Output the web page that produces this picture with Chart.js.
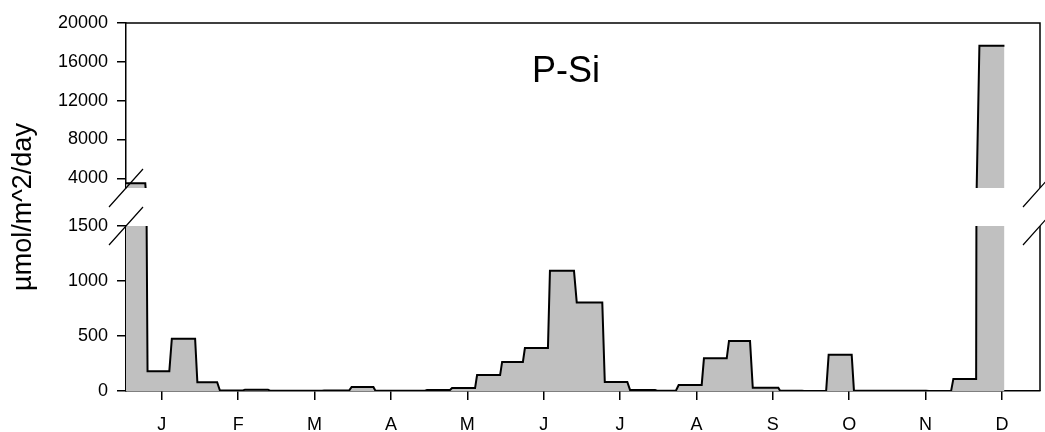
<!DOCTYPE html>
<html>
<head>
<meta charset="utf-8">
<script src="https://cdn.jsdelivr.net/npm/chart.js@4/dist/chart.umd.min.js"></script>
<style>
  html, body { margin: 0; padding: 0; background: #fff; }
</style>
</head>
<body>
<canvas id="c" width="1045" height="432"></canvas>
<script>
// trap sample periods (day of year) and P-Si flux in µmol/m^2/day
const periodStart = [0, 8.6, 18.3, 28.5, 37.5, 47.5, 57.5, 68.3, 79.1, 90.1, 99.6, 110.2, 120.2, 130.2, 140.2, 150.2, 159.3, 169.3, 180.0, 191.2, 201.3, 212.1, 220.7, 230.8, 240.8, 250.3, 261.2, 270.8, 280.6, 290.7, 300.7, 310.7, 320.7, 330.4, 340.8]
const periodEnd = [7.7, 17.3, 27.6, 36.4, 46.7, 56.7, 67.5, 78.3, 89.1, 98.8, 109.4, 119.4, 129.4, 139.4, 149.4, 158.5, 168.5, 178.9, 190.2, 200.2, 211.3, 219.6, 229.9, 239.9, 249.2, 260.5, 270.0, 279.6, 289.8, 299.9, 309.9, 319.5, 329.5, 339.5, 350.8]
const fluxPSi = [3480, 180, 475, 80, 5, 12, 3, 2, 4, 36, 2, 3, 9, 27, 145, 264, 391, 1094, 805, 82, 8, 2, 55, 297, 455, 30, 2, 1, 330, 3, 2, 2, 1, 110, 17650]

const monthLabels = ['J', 'F', 'M', 'A', 'M', 'J', 'J', 'A', 'S', 'O', 'N', 'D']
const monthTickDays = [14.3, 44.8, 75.3, 105.8, 136.3, 166.8, 197.3, 227.8, 258.3, 288.8, 319.3, 349.8]
const lowerTicks = [0, 500, 1000, 1500]
const upperTicks = [4000, 8000, 12000, 16000, 20000]

// each sample is a flat step from start to end of its period
const points = []
periodStart.forEach((s, i) => {
  points.push({ x: s, y: fluxPSi[i] }, { x: periodEnd[i], y: fluxPSi[i] })
})

// clip every dataset to its own panel of the broken axis
// (registered before the filler so the fill is clipped too)
const clipToPanel = {
  id: 'clipToPanel',
  beforeDatasetDraw(chart, args) {
    const ys = chart.scales[args.meta.yAxisID]
    const a = chart.chartArea
    const ctx = chart.ctx
    ctx.save()
    ctx.beginPath()
    const extraBottom = ys.id === 'y' ? 2 : 0
    ctx.rect(a.left, ys.top, a.right - a.left, ys.bottom - ys.top + extraBottom)
    ctx.clip()
  },
  afterDatasetDraw(chart) {
    chart.ctx.restore()
  }
}
Chart.unregister(Chart.Filler)
Chart.register(clipToPanel)
Chart.register(Chart.Filler)

const frameAndBreaks = {
  id: 'frameAndBreaks',
  afterDraw(chart) {
    const { ctx, chartArea: a, scales } = chart
    const up = scales.yTop, low = scales.y
    ctx.save()
    ctx.strokeStyle = '#000'
    ctx.lineWidth = 1.5
    ctx.beginPath()
    ctx.moveTo(a.left, a.top)
    ctx.lineTo(a.right, a.top)
    ctx.lineTo(a.right, up.bottom)
    ctx.moveTo(a.right, low.top)
    ctx.lineTo(a.right, a.bottom)
    ctx.stroke()
    ctx.lineWidth = 1.2
    ctx.beginPath()
    for (const x of [a.left, a.right]) {
      for (const y of [up.bottom, low.top]) {
        ctx.moveTo(x - 17, y + 19)
        ctx.lineTo(x + 17, y - 19)
      }
    }
    ctx.stroke()
    ctx.fillStyle = '#000'
    ctx.font = '36px "Liberation Sans", Arial, sans-serif'
    ctx.textAlign = 'center'
    ctx.textBaseline = 'alphabetic'
    ctx.fillText('P-Si', 566, 82)
    ctx.restore()
  }
}

const fontFam = "'Liberation Sans', Arial, sans-serif"
const tickFont = { family: fontFam, size: 18 }
const axisGrid = { drawOnChartArea: false, tickLength: 9, color: '#000', lineWidth: 1.5 }
const axisBorder = { color: '#000', width: 1.5 }
const fitLeft = s => { s.width = 126 }

const seriesStyle = {
  data: points,
  borderColor: '#000',
  borderWidth: 2,
  backgroundColor: '#c0c0c0',
  pointRadius: 0,
  tension: 0,
  fill: 'start'
}

new Chart(document.getElementById('c'), {
  type: 'line',
  data: {
    datasets: [
      Object.assign({ label: 'P-Si', yAxisID: 'y' }, seriesStyle),
      Object.assign({ label: 'P-Si (upper)', yAxisID: 'yTop' }, seriesStyle)
    ]
  },
  options: {
    responsive: false,
    animation: false,
    devicePixelRatio: 1,
    layout: { padding: { left: 0, right: 5, top: 23, bottom: 0 } },
    plugins: {
      legend: { display: false },
      tooltip: { enabled: false }
    },
    scales: {
      x: {
        type: 'linear', min: 0, max: 365,
        grid: axisGrid, border: axisBorder,
        afterBuildTicks: s => { s.ticks = monthTickDays.map(v => ({ value: v })) },
        afterFit: s => { s.height = 41 },
        ticks: { autoSkip: false, maxRotation: 0, padding: 14, color: '#000', font: tickFont,
                 callback: (v, i) => monthLabels[i] }
      },
      y: {
        position: 'left', stack: 'psi', stackWeight: 165,
        min: 0, max: 1500,
        grid: axisGrid, border: axisBorder,
        afterBuildTicks: s => { s.ticks = lowerTicks.map(v => ({ value: v })) },
        afterFit: fitLeft,
        ticks: { autoSkip: false, padding: 9, color: '#000', font: tickFont, callback: v => String(v) }
      },
      yGap: {
        position: 'left', stack: 'psi', stackWeight: 38,
        min: 0, max: 1,
        grid: { display: false }, border: { display: false },
        ticks: { display: false },
        afterFit: fitLeft,
        title: { display: true, text: 'µmol/m^2/day', color: '#000',
                 font: { family: fontFam, size: 27 }, padding: { top: 7, bottom: 0 } }
      },
      yTop: {
        position: 'left', stack: 'psi', stackWeight: 165,
        min: 3000, max: 20000,
        grid: axisGrid, border: axisBorder,
        afterBuildTicks: s => { s.ticks = upperTicks.map(v => ({ value: v })) },
        afterFit: fitLeft,
        ticks: { autoSkip: false, padding: 9, color: '#000', font: tickFont, callback: v => String(v) }
      }
    }
  },
  plugins: [frameAndBreaks]
})
</script>
</body>
</html>
